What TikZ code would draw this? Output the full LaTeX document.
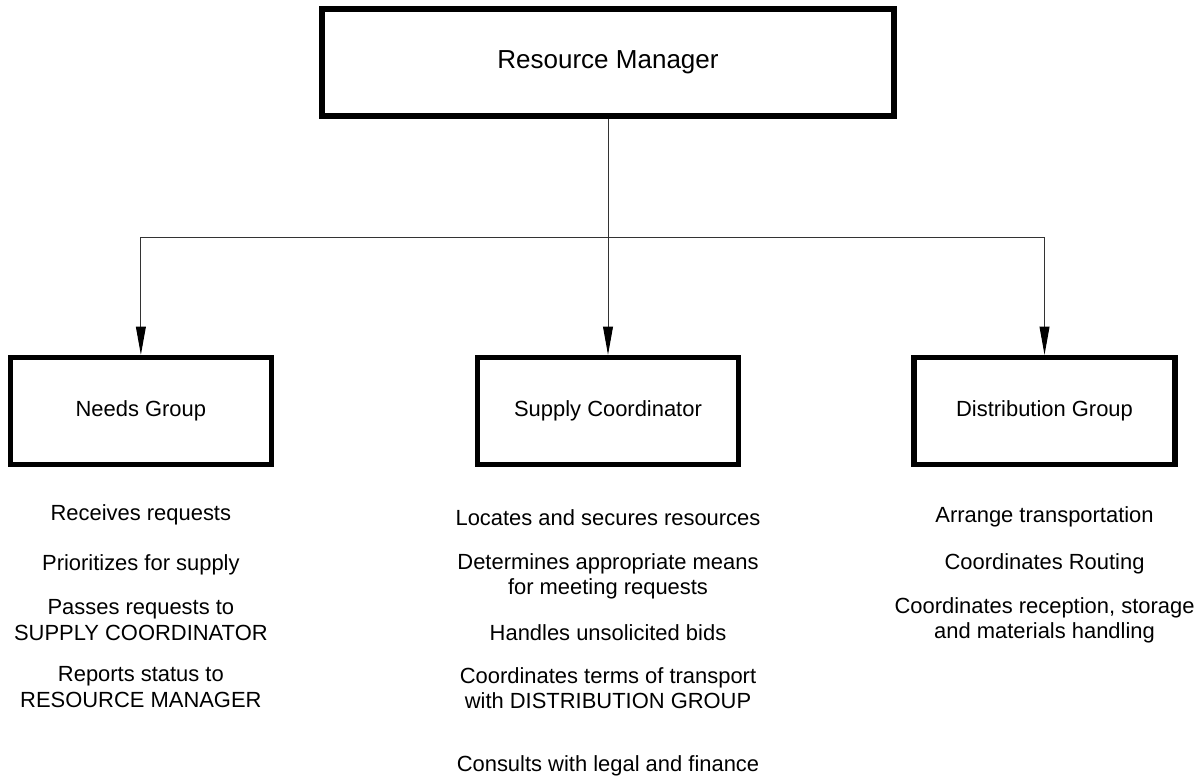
\documentclass[tikz,border=0pt]{standalone}
\usepackage{fontspec}
\setmainfont{Liberation Sans}
\usetikzlibrary{arrows.meta}

\tikzset{
  box/.style={draw, line width=3.8pt, minimum width=6.525cm, minimum height=2.675cm,
    font=\fontsize{15.6}{17.8}\selectfont},
  topbox/.style={box, minimum width=14.3cm, font=\fontsize{18.5}{21}\selectfont},
  duty/.style={font=\fontsize{15.6}{17.8}\selectfont},
  link/.style={line width=0.7pt, draw=black!80,
    -{Triangle[length=20pt,width=7pt,color=black]}}
}

\begin{document}
\begin{tikzpicture}[x=0.025cm, y=-0.025cm, align=center]
\useasboundingbox (0,0) rectangle (1201,783);
%nodes

\node (RM)[topbox] at (608,62.5)                {Resource Manager};

\node (SC)[box, below of=RM, node distance=8.71cm]  {Supply Coordinator};
\node (NG)[box, left of=SC, node distance=11.675cm] {Needs Group};
\node (DG)[box, right of=SC, node distance=10.91cm] {Distribution Group};


\node (NG1)[duty, below of=NG, node distance=2.6cm]    {Receives requests};
\node (NG2)[duty, below of=NG1, node distance=1.25cm]  {Prioritizes for supply};
\node (NG3)[duty, below of=NG2, node distance=1.375cm] {Passes requests to\\SUPPLY COORDINATOR};
\node (NG4)[duty, below of=NG3, node distance=1.675cm] {Reports status to\\RESOURCE MANAGER};


\node (SC1)[duty, below of=SC, node distance=2.675cm]   {Locates and secures resources};
\node (SC2)[duty, below of=SC1, node distance=1.4625cm] {Determines appropriate means\\for meeting requests};
\node (SC3)[duty, below of=SC2, node distance=1.4125cm] {Handles unsolicited bids};
\node (SC4)[duty, below of=SC3, node distance=1.3875cm] {Coordinates terms of transport\\with DISTRIBUTION GROUP};
\node (SC5)[duty, below of=SC4, node distance=1.9375cm] {Consults with legal and finance};


\node (DG1)[duty, below of=DG, node distance=2.65cm]    {Arrange transportation};
\node (DG2)[duty, below of=DG1, node distance=1.175cm]  {Coordinates Routing};
\node (DG3)[duty, below of=DG2, node distance=1.4125cm] {Coordinates reception, storage\\and materials handling};


%links
\coordinate (J) at (608,237);
\draw[link] (RM) -- (SC);
\draw[link] (J) -| (NG);
\draw[link] (J) -| (DG);
\end{tikzpicture}
\end{document}
